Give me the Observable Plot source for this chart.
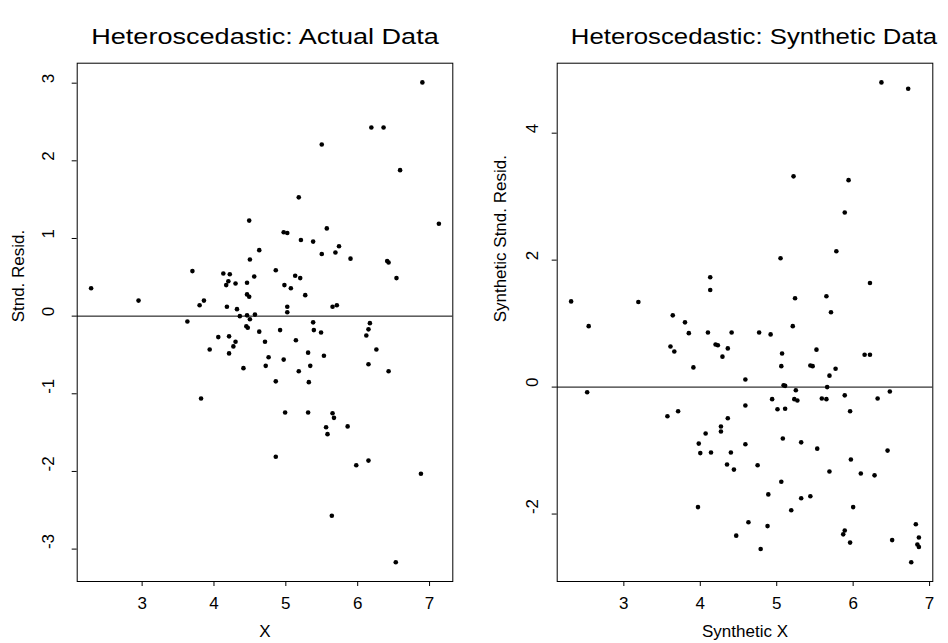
<!DOCTYPE html>
<html>
<head>
<meta charset="utf-8">
<script src="https://cdn.jsdelivr.net/npm/d3@7"></script>
<script src="https://cdn.jsdelivr.net/npm/@observablehq/plot@0.6"></script>
<style>
  body { margin: 0; background: #fff; }
  #wrap { position: relative; width: 948px; height: 643px; background: #fff; font-family: "Liberation Sans", Arial, Helvetica, sans-serif; overflow: hidden; }
  .panel { position: absolute; top: 0; }
  .title { position: absolute; width: 420px; text-align: center; font-size: 22px; line-height: 26px; color: #000; transform-origin: center; white-space: nowrap; }
</style>
</head>
<body>
<div id="wrap"></div>
<script>
// ---- Data: Actual (left panel) ----
const actualX = [2.29,2.95,3.63,3.70,3.80,3.82,3.86,3.94,4.06,4.13,4.17,4.18,4.20,4.21,4.21,4.22,4.27,4.30,4.30,4.32,
  4.36,4.41,4.45,4.47,4.46,4.46,4.46,4.49,4.49,4.50,4.50,4.56,4.57,4.63,4.63,4.71,4.72,4.76,4.86,4.86,
  4.86,4.92,4.97,4.97,4.98,4.99,5.02,5.02,5.02,5.07,5.13,5.14,5.18,5.18,5.20,5.21,5.27,5.31,5.31,5.32,
  5.34,5.38,5.38,5.39,5.49,5.50,5.50,5.53,5.56,5.57,5.58,5.64,5.65,5.65,5.67,5.69,5.71,5.74,5.86,5.90,
  5.98,6.12,6.15,6.15,6.15,6.17,6.19,6.26,6.36,6.41,6.43,6.43,6.53,6.54,6.59,6.88,6.90,7.13];
const actualResid = [0.36,0.20,-0.07,0.58,0.14,-1.06,0.20,-0.43,-0.27,0.55,0.40,0.12,0.45,-0.26,-0.48,0.54,-0.39,0.42,-0.33,0.09,
  0.00,-0.67,-0.13,-0.15,0.43,0.28,0.01,1.23,0.25,0.73,-0.04,0.51,0.02,0.85,-0.20,-0.33,-0.64,-0.53,0.59,-0.84,
  -1.81,-0.18,1.08,-0.56,0.40,-1.24,1.07,0.12,0.05,0.36,0.52,-0.31,1.53,-0.71,0.49,0.98,0.27,-0.47,-1.24,-0.85,
  -0.64,0.96,-0.08,-0.18,-0.21,2.21,0.80,-0.51,-1.43,1.13,-1.52,-2.57,0.12,-1.25,-1.31,0.82,0.14,0.90,-1.42,0.74,
  -1.92,-0.25,-0.17,-0.62,-1.86,-0.09,2.43,-0.43,2.43,0.71,0.69,-0.71,-3.17,0.49,1.88,-2.03,3.01,1.19];

// ---- Data: Synthetic (right panel) ----
const synthX = [2.31,2.52,2.54,3.19,3.57,3.61,3.64,3.66,3.71,3.80,3.85,3.91,3.97,3.98,4.00,4.07,4.10,4.13,4.13,4.14,
  4.20,4.23,4.27,4.27,4.29,4.35,4.36,4.36,4.40,4.41,4.44,4.47,4.59,4.59,4.59,4.63,4.75,4.77,4.79,4.88,
  4.89,4.92,4.94,5.01,5.05,5.06,5.06,5.07,5.08,5.09,5.11,5.11,5.19,5.21,5.22,5.23,5.24,5.25,5.27,5.32,
  5.32,5.44,5.44,5.47,5.52,5.53,5.59,5.65,5.65,5.66,5.69,5.69,5.71,5.77,5.78,5.87,5.89,5.89,5.89,5.94,
  5.96,5.96,5.97,6.00,6.10,6.15,6.22,6.22,6.28,6.32,6.37,6.45,6.48,6.51,6.72,6.76,6.82,6.84,6.86,6.86];
const synthResid = [1.35,-0.08,0.96,1.34,-0.46,0.64,1.13,0.56,-0.38,1.02,0.85,0.31,-1.89,-0.89,-1.04,-0.73,0.86,1.73,1.53,-1.03,
  0.67,0.66,-0.62,-0.70,0.48,-1.22,0.61,-0.49,-1.03,0.86,-1.30,-2.34,0.12,-0.29,-0.90,-2.13,-1.23,0.86,-2.55,-2.19,
  -1.69,0.83,-0.19,-0.35,2.03,0.33,-1.49,0.53,-0.81,0.03,0.02,-0.34,-1.94,0.96,3.32,-0.19,1.40,-0.05,-0.21,-0.87,
  -1.75,0.34,-1.72,0.33,0.59,-0.97,-0.18,1.43,-0.19,0.00,0.18,-1.33,1.18,0.29,2.14,-2.32,2.75,-0.13,-2.26,3.26,
  -0.38,-2.45,-1.14,-1.89,-1.36,0.51,0.51,1.64,-1.39,-0.18,4.80,-1.00,-0.07,-2.41,4.70,-2.76,-2.16,-2.48,-2.37,-2.52];

// ---- Tick values and labels ----
const actualXTicks = [3, 4, 5, 6, 7];
const actualYTicks = [-3, -2, -1, 0, 1, 2, 3];
const synthXTicks = [3, 4, 5, 6, 7];
const synthYTicks = [-2, 0, 2, 4];
const titles = ["Heteroscedastic: Actual Data", "Heteroscedastic: Synthetic Data"];
const xLabels = ["X", "Synthetic X"];
const yLabels = ["Stnd. Resid.", "Synthetic Stnd. Resid."];

const FONT = '"Liberation Sans", Arial, Helvetica, sans-serif';

// R-style 4% padded range
function padded(v) {
  const [a, b] = d3.extent(v);
  const p = (b - a) * 0.04;
  return [a - p, b + p];
}

function panel({xs, ys, xTicks, yTicks, xLabel, yLabel, marginLeft, marginRight, yTickDx, yLabelDx}) {
  const data = xs.map((x, i) => ({x, y: ys[i]}));
  return Plot.plot({
    width: 474,
    height: 643,
    marginTop: 62.7,
    marginBottom: 62,
    marginLeft,
    marginRight,
    x: {domain: padded(xs)},
    y: {domain: padded(ys)},
    style: {fontFamily: FONT, fontSize: "17px", color: "#000", background: "transparent", overflow: "visible"},
    marks: [
      Plot.axisX({ticks: xTicks, tickSize: 5, tickFormat: () => "", label: null, stroke: "#000", strokeWidth: 1}),
      Plot.axisY({ticks: yTicks, tickSize: 5, tickFormat: () => "", label: null, stroke: "#000", strokeWidth: 1}),
      Plot.text(xTicks, {x: d => d, text: d => String(d), frameAnchor: "bottom", dy: 22, lineAnchor: "middle", fontSize: 17, fill: "#000"}),
      Plot.text(yTicks, {y: d => d, text: d => String(d), frameAnchor: "left", dx: yTickDx, rotate: -90, lineAnchor: "middle", fontSize: 17, fill: "#000"}),
      Plot.text([xLabel], {text: d => d, frameAnchor: "bottom", dy: 50, lineAnchor: "middle", fontSize: 17, fill: "#000"}),
      Plot.text([yLabel], {text: d => d, frameAnchor: "left", dx: yLabelDx, rotate: -90, lineAnchor: "middle", fontSize: 17, fill: "#000"}),
      Plot.ruleY([0], {stroke: "#000", strokeWidth: 1}),
      Plot.dot(data, {x: "x", y: "y", r: 2.3, fill: "#000", stroke: null}),
      Plot.frame({stroke: "#000", strokeWidth: 1})
    ]
  });
}

const wrap = document.getElementById("wrap");

const left = panel({xs: actualX, ys: actualResid, xTicks: actualXTicks, yTicks: actualYTicks,
  xLabel: xLabels[0], yLabel: yLabels[0], marginLeft: 76.7, marginRight: 21.7, yTickDx: -29, yLabelDx: -59});
left.classList.add("panel");
left.style.left = "0px";
wrap.appendChild(left);

const right = panel({xs: synthX, ys: synthResid, xTicks: synthXTicks, yTicks: synthYTicks,
  xLabel: xLabels[1], yLabel: yLabels[1], marginLeft: 82.7, marginRight: 15.7, yTickDx: -25, yLabelDx: -57});
right.classList.add("panel");
right.style.left = "474px";
wrap.appendChild(right);

// Titles
[[265, titles[0], 1.23], [754, titles[1], 1.17]].forEach(([cx, t, sx]) => {
  const d = document.createElement("div");
  d.className = "title";
  d.textContent = t;
  d.style.left = (cx - 210) + "px";
  d.style.top = "24px";
  d.style.transform = `scaleX(${sx})`;
  wrap.appendChild(d);
});
</script>
</body>
</html>
